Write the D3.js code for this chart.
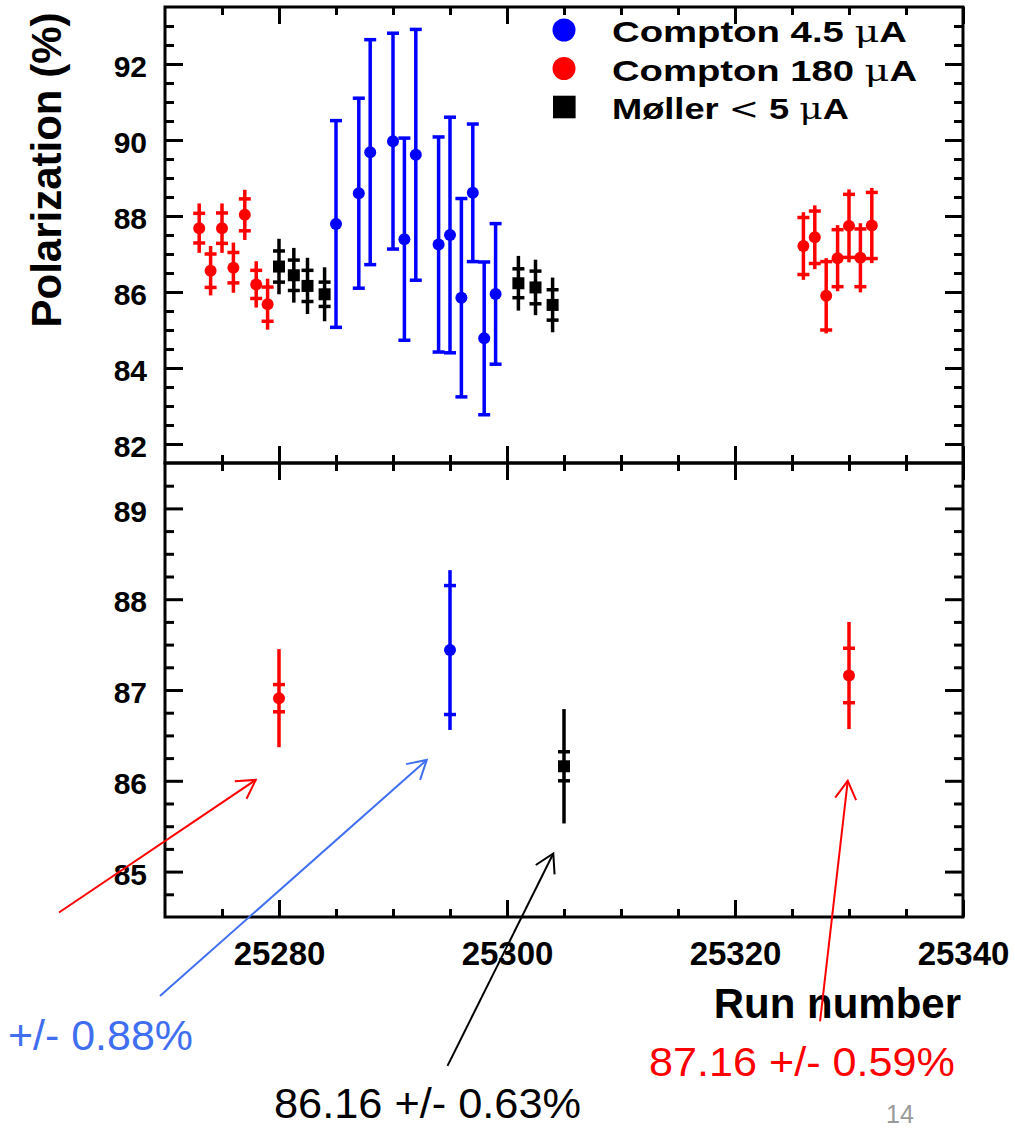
<!DOCTYPE html>
<html>
<head>
<meta charset="utf-8">
<script src="https://cdn.jsdelivr.net/npm/d3@7"></script>
<style>
    body { margin: 0; background: #fff; }
    svg { display: block; }
</style>
</head>
<body>
<div id="wrapper"></div>
<script>
// ---- values ----
// Compton 180 uA (red): run, polarization, inner (crossbar) error, full error
const compton180Runs = [25273, 25274, 25275, 25276, 25277, 25278, 25279, 25326, 25327, 25328, 25329, 25330, 25331, 25332];
const compton180Pol  = [87.68, 86.56, 87.68, 86.64, 88.03, 86.20, 85.68, 87.21, 87.44, 85.90, 86.89, 87.74, 86.90, 87.75];
const compton180Stat = [0.39, 0.44, 0.40, 0.40, 0.42, 0.37, 0.45, 0.75, 0.69, 0.90, 0.75, 0.83, 0.76, 0.87];
const compton180Tot  = [0.65, 0.65, 0.65, 0.66, 0.66, 0.61, 0.67, 0.89, 0.84, 0.99, 0.87, 0.96, 0.91, 0.99];

// Compton 4.5 uA (blue)
const compton45Runs = [25285, 25287, 25288, 25290, 25291, 25292, 25294, 25295, 25296, 25297, 25298, 25299];
const compton45Pol  = [87.79, 88.60, 89.68, 89.97, 87.39, 89.61, 87.25, 87.50, 85.85, 88.61, 84.78, 85.95];
const compton45Err  = [2.72, 2.50, 2.96, 2.84, 2.66, 3.30, 2.83, 3.10, 2.61, 1.81, 2.01, 1.85];

// Moller < 5 uA (black)
const mollerRuns = [25280, 25281.3, 25282.5, 25284, 25301, 25302.5, 25304];
const mollerPol  = [86.67, 86.44, 86.16, 85.94, 86.23, 86.12, 85.66];
const mollerStat = [0.41, 0.40, 0.41, 0.32, 0.38, 0.43, 0.40];
const mollerTot  = [0.73, 0.72, 0.74, 0.71, 0.72, 0.73, 0.72];

// averages (lower panel)
const avgRedRuns = [25280, 25330];
const avgRedPol  = [86.91, 87.16];
const avgRedStat = [0.15, 0.30];
const avgRedTot  = [0.54, 0.59];
const avgBlueRuns = [25295];
const avgBluePol  = [87.44];
const avgBlueStat = [0.71];
const avgBlueTot  = [0.88];
const avgBlackRuns = [25305];
const avgBlackPol  = [86.16];
const avgBlackStat = [0.16];
const avgBlackTot  = [0.63];

// ticks
const xMajorTicks = [25280, 25300, 25320, 25340];
const xMinorTicks = d3.range(25275, 25340, 5).filter(v => v % 20 !== 0);
const yTopMajor = [82, 84, 86, 88, 90, 92];
const yTopMinor = d3.range(82, 93.5, 0.5).filter(v => v % 2 !== 0);
const yBotMajor = [85, 86, 87, 88, 89];
const yBotMinor = d3.range(84.75, 89.5, 0.25).filter(v => v % 1 !== 0);

const legendLabels = ["Compton 4.5 ", "Compton 180 ", "Møller "];
const resultLabels = ["+/- 0.88%", "86.16 +/- 0.63%", "87.16 +/- 0.59%"];

// annotation arrows, given in (run, polarization) of the lower panel
const arrows = [
    { color: "#ff0000", from: [25260.7, 84.55], to: [25277.96, 86.01] },
    { color: "#3f6ff0", from: [25269.56, 83.63], to: [25292.96, 86.23] },
    { color: "#000000", from: [25294.78, 82.86], to: [25304.06, 85.20] },
    { color: "#ff0000", from: [25327.46, 83.35], to: [25329.89, 86.00] },
];

let dimensions = {
    width: 1015,
    height: 1128,
    left: 165,
    right: 963,
    topY: 7,
    midY: 463,
    bottomY: 917,
};

const wrapper = d3.select("#wrapper")
    .append("svg")
    .attr("width", dimensions.width)
    .attr("height", dimensions.height);

wrapper.append("rect")
    .attr("width", dimensions.width)
    .attr("height", dimensions.height)
    .attr("fill", "#fff");

const xScale = d3.scaleLinear()
    .domain([25270, 25340])
    .range([dimensions.left, dimensions.right]);

const yTop = d3.scaleLinear()
    .domain([81.5, 93.5])
    .range([dimensions.midY, dimensions.topY]);

const yBot = d3.scaleLinear()
    .domain([84.5, 89.5])
    .range([dimensions.bottomY, dimensions.midY]);

const boldFont = "'Liberation Sans', Arial, sans-serif";

function styleAxis(g) {
    g.attr("font-size", null).attr("font-family", null);
    g.select(".domain").remove();
    g.selectAll(".tick line").attr("stroke", "#000").attr("stroke-width", 3);
    g.selectAll(".tick text")
        .attr("fill", "#000")
        .style("font-family", boldFont)
        .style("font-weight", "bold");
}

function drawFrame(yScale, yMajor, yMinor, showX) {
    const [y0, y1] = yScale.range();
    const g = wrapper.append("g");

    // left
    g.append("g").attr("transform", `translate(${dimensions.left},0)`)
        .call(d3.axisLeft(yScale).tickValues(yMajor).tickSize(-18).tickPadding(18).tickFormat(d3.format("d")))
        .call(styleAxis)
        .call(a => a.selectAll("text").style("font-size", "30px").attr("dy", "0.42em"));
    g.append("g").attr("transform", `translate(${dimensions.left},0)`)
        .call(d3.axisLeft(yScale).tickValues(yMinor).tickSize(-9).tickFormat(""))
        .call(styleAxis);
    // right
    g.append("g").attr("transform", `translate(${dimensions.right},0)`)
        .call(d3.axisRight(yScale).tickValues(yMajor).tickSize(-18).tickFormat(""))
        .call(styleAxis);
    g.append("g").attr("transform", `translate(${dimensions.right},0)`)
        .call(d3.axisRight(yScale).tickValues(yMinor).tickSize(-9).tickFormat(""))
        .call(styleAxis);
    // top
    g.append("g").attr("transform", `translate(0,${y1})`)
        .call(d3.axisTop(xScale).tickValues(xMajorTicks).tickSize(-17).tickFormat(""))
        .call(styleAxis);
    g.append("g").attr("transform", `translate(0,${y1})`)
        .call(d3.axisTop(xScale).tickValues(xMinorTicks).tickSize(-8).tickFormat(""))
        .call(styleAxis);
    // bottom
    const bx = g.append("g").attr("transform", `translate(0,${y0})`)
        .call(d3.axisBottom(xScale).tickValues(xMajorTicks).tickSize(-17).tickPadding(25)
            .tickFormat(showX ? d3.format("d") : ""))
        .call(styleAxis);
    bx.selectAll("text").style("font-size", "33px");
    g.append("g").attr("transform", `translate(0,${y0})`)
        .call(d3.axisBottom(xScale).tickValues(xMinorTicks).tickSize(-8).tickFormat(""))
        .call(styleAxis);

    g.append("rect")
        .attr("x", dimensions.left)
        .attr("y", y1)
        .attr("width", dimensions.right - dimensions.left)
        .attr("height", y0 - y1)
        .attr("fill", "none")
        .attr("stroke", "#000")
        .attr("stroke-width", 3);
}

drawFrame(yTop, yTopMajor, yTopMinor, false);
drawFrame(yBot, yBotMajor, yBotMinor, true);

function drawSeries(yScale, runs, pol, stat, tot, color, shape, capped) {
    const data = runs.map((r, i) => ({ run: r, pol: pol[i], stat: stat ? stat[i] : null, tot: tot[i] }));
    const g = wrapper.append("g");
    const pts = g.selectAll("g").data(data).join("g")
        .attr("transform", d => `translate(${xScale(d.run)},0)`);

    pts.append("line")
        .attr("y1", d => yScale(d.pol - d.tot))
        .attr("y2", d => yScale(d.pol + d.tot))
        .attr("stroke", color)
        .attr("stroke-width", 3.5);

    const bars = [];
    data.forEach((d, i) => {
        const e = capped ? d.tot : d.stat;
        bars.push({ d, v: d.pol + e }, { d, v: d.pol - e });
    });
    g.selectAll(".bar").data(bars).join("line")
        .attr("class", "bar")
        .attr("x1", b => xScale(b.d.run) - 6)
        .attr("x2", b => xScale(b.d.run) + 6)
        .attr("y1", b => yScale(b.v))
        .attr("y2", b => yScale(b.v))
        .attr("stroke", color)
        .attr("stroke-width", 3.5);

    if (shape === "square") {
        pts.append("rect")
            .attr("x", -6).attr("y", d => yScale(d.pol) - 6)
            .attr("width", 12).attr("height", 12)
            .attr("fill", color);
    } else {
        pts.append("circle")
            .attr("cy", d => yScale(d.pol))
            .attr("r", 6)
            .attr("fill", color);
    }
}

// upper panel
drawSeries(yTop, compton45Runs, compton45Pol, null, compton45Err, "#0000ff", "circle", true);
drawSeries(yTop, compton180Runs, compton180Pol, compton180Stat, compton180Tot, "#ff0000", "circle", false);
drawSeries(yTop, mollerRuns, mollerPol, mollerStat, mollerTot, "#000000", "square", false);

// lower panel
drawSeries(yBot, avgRedRuns, avgRedPol, avgRedStat, avgRedTot, "#ff0000", "circle", false);
drawSeries(yBot, avgBlueRuns, avgBluePol, avgBlueStat, avgBlueTot, "#0000ff", "circle", false);
drawSeries(yBot, avgBlackRuns, avgBlackPol, avgBlackStat, avgBlackTot, "#000000", "square", false);

// legend
const legend = wrapper.append("g");
const legendItems = [
    { color: "#0000ff", shape: "circle", label: legendLabels[0], lt: false, len: 295 },
    { color: "#ff0000", shape: "circle", label: legendLabels[1], lt: false, len: 305 },
    { color: "#000000", shape: "square", label: legendLabels[2], lt: true, len: 237 },
];
legendItems.forEach((it, i) => {
    const cy = 30 + i * 38.5;
    if (it.shape === "circle") {
        legend.append("circle").attr("cx", 564).attr("cy", cy).attr("r", 11.5).attr("fill", it.color);
    } else {
        legend.append("rect").attr("x", 553).attr("y", cy - 11.3).attr("width", 22.6).attr("height", 22.6).attr("fill", it.color);
    }
    const t = legend.append("text")
        .attr("x", 612)
        .attr("y", cy + 12)
        .attr("textLength", it.len)
        .attr("lengthAdjust", "spacingAndGlyphs")
        .style("font-family", boldFont)
        .style("font-weight", "bold")
        .style("font-size", "30px");
    t.append("tspan").text(it.label);
    if (it.lt) {
        t.append("tspan").style("font-family", "'DejaVu Serif', serif").style("font-weight", "normal").text("<");
        t.append("tspan").text(" 5 ");
    }
    t.append("tspan").style("font-family", "'DejaVu Serif', serif").style("font-weight", "normal").text("μ");
    t.append("tspan").text("A");
});

// axis titles
wrapper.append("text")
    .attr("transform", "translate(61,170) rotate(-90)")
    .attr("text-anchor", "middle")
    .style("font-family", boldFont)
    .style("font-weight", "bold")
    .style("font-size", "42px")
    .text("Polarization (%)");

wrapper.append("text")
    .attr("x", 961)
    .attr("y", 1018)
    .attr("text-anchor", "end")
    .style("font-family", boldFont)
    .style("font-weight", "bold")
    .style("font-size", "42px")
    .text("Run number");

// arrows
const arrowG = wrapper.append("g");
arrows.forEach(a => {
    const x1 = xScale(a.from[0]), y1 = yBot(a.from[1]);
    const x2 = xScale(a.to[0]), y2 = yBot(a.to[1]);
    const ang = Math.atan2(y1 - y2, x1 - x2);
    const arm = 21, spread = Math.PI / 6;
    arrowG.append("line")
        .attr("x1", x1).attr("y1", y1).attr("x2", x2).attr("y2", y2)
        .attr("stroke", a.color).attr("stroke-width", 2);
    arrowG.append("path")
        .attr("d", `M${x2 + arm * Math.cos(ang + spread)},${y2 + arm * Math.sin(ang + spread)}` +
            `L${x2},${y2}L${x2 + arm * Math.cos(ang - spread)},${y2 + arm * Math.sin(ang - spread)}`)
        .attr("fill", "none")
        .attr("stroke", a.color).attr("stroke-width", 2);
});

// result labels
const labelFont = "'Liberation Sans Narrow', 'Liberation Sans', sans-serif";
const labelSpecs = [
    { text: resultLabels[0], x: 8, y: 1050, len: 185, size: 42, color: "#3f6ff0" },
    { text: resultLabels[1], x: 274, y: 1118, len: 307, size: 42, color: "#000000" },
    { text: resultLabels[2], x: 649, y: 1076, len: 306, size: 41, color: "#ff0000" },
];
labelSpecs.forEach(s => {
    wrapper.append("text")
        .attr("x", s.x).attr("y", s.y)
        .attr("textLength", s.len)
        .attr("lengthAdjust", "spacingAndGlyphs")
        .attr("fill", s.color)
        .style("font-family", labelFont)
        .style("font-size", s.size + "px")
        .text(s.text);
});

// slide page number
wrapper.append("text")
    .attr("x", 886).attr("y", 1123)
    .attr("fill", "#9a9a9a")
    .style("font-family", labelFont)
    .style("font-size", "25px")
    .text("14");
</script>
</body>
</html>
